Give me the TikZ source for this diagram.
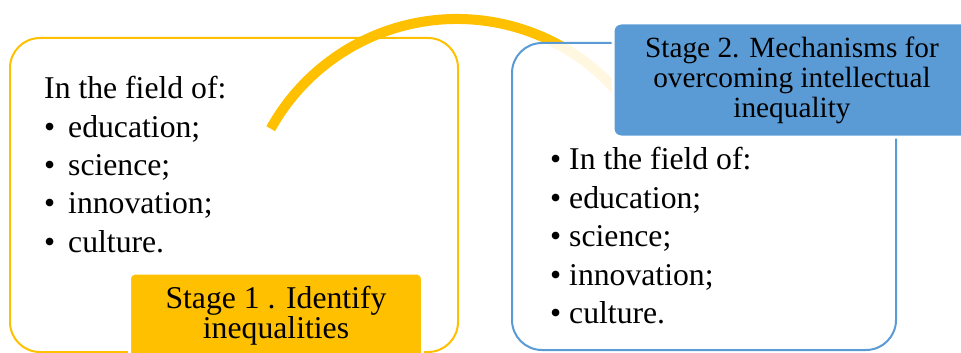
\documentclass[tikz,border=0pt]{standalone}
\usepackage{fontspec}
\setmainfont{Liberation Serif}
\definecolor{stageyellow}{HTML}{FFC000}
\definecolor{stageblue}{HTML}{5B9BD5}
\tikzset{
   frameone/.style={draw=stageyellow, line width=2pt, rounded corners=30pt, inner sep=0pt},
   frametwo/.style={draw=stageblue, line width=2pt, rounded corners=30pt, inner sep=0pt, fill=white, fill opacity=0.88},
   stageone/.style={draw=white, line width=3pt, fill=stageyellow, rounded corners=6pt, inner sep=0pt, align=center, font=\fontsize{31.7}{30}\selectfont},
   stagetwo/.style={draw=white, line width=3pt, fill=stageblue, rounded corners=8pt, inner sep=0pt, align=center, font=\fontsize{29.3}{30}\selectfont},
   listtext/.style={anchor=base west, inner sep=0pt, font=\fontsize{31.7}{38}\selectfont},
   arcline/.style={draw=stageyellow, line width=10pt}
}
\begin{document}
\begin{tikzpicture}[x=1pt, y=-1pt]
   \useasboundingbox (0,0) rectangle (961,353);
   \node[frameone, minimum width=448pt, minimum height=314pt] (frame1) at (234,195) {};
   \node[listtext] (l0) at (44,98) {In the field of:};
   \foreach \u / \y / \n in {1/137/education;, 2/175/science;, 3/213/innovation;, 4/252/culture.} {
      \node[listtext] (lb\u) at (44,\y) {\textbullet};
      \node[listtext] (l\u) at (68,\y) {\n};
   }
   \node[stageone, minimum width=293pt, minimum height=86pt] (stage1) at (276,316) {Stage 1 . Identify\\inequalities};
   \coordinate (arcstart) at (270.7,128.7);
   \path[arcline] (arcstart) arc[start angle=-151, end angle=-42, radius=213];
   \node[frametwo, minimum width=384pt, minimum height=307pt] (frame2) at (704,196.5) {};
   \foreach \u / \y / \n in {0/169/In the field of:, 1/208/education;, 2/246/science;, 3/285/innovation;, 4/323/culture.} {
      \node[listtext] (rb\u) at (550,\y) {\textbullet};
      \node[listtext] (r\u) at (569,\y) {\n};
   }
   \node[stagetwo, minimum width=358pt, minimum height=114pt] (stage2) at (792,80) {Stage 2. Mechanisms for\\overcoming intellectual\\inequality};
\end{tikzpicture}
\end{document}
